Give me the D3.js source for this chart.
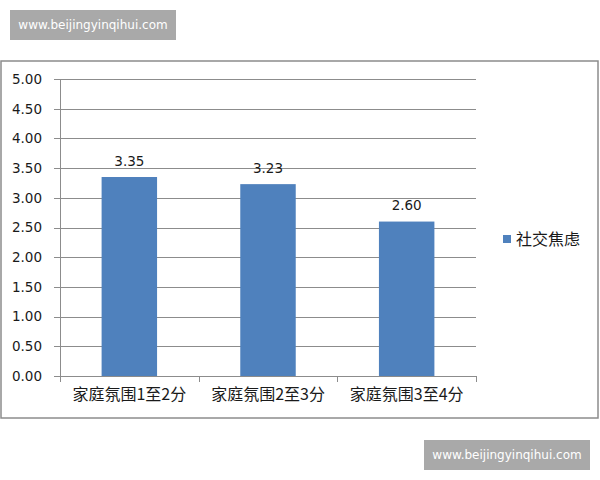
<!DOCTYPE html>
<html>
<head>
<meta charset="utf-8">
<script src="https://cdn.jsdelivr.net/npm/d3@7"></script>
<style>
  body { margin: 0; background: #fff; }
</style>
</head>
<body>
<div id="chart"></div>
<script>
const categories = ["家庭氛围1至2分", "家庭氛围2至3分", "家庭氛围3至4分"];
const values = [3.35, 3.23, 2.6];
const seriesName = "社交焦虑";
const yTicks = [0, 0.5, 1, 1.5, 2, 2.5, 3, 3.5, 4, 4.5, 5];
const watermark = "www.beijingyinqihui.com";

const width = 600, height = 480;
const plot = { left: 60, right: 476, top: 79, bottom: 376 };
const cjk = "'Noto Sans CJK SC', sans-serif";
const num = "'DejaVu Sans', Verdana, sans-serif";

const svg = d3.select("#chart").append("svg")
  .attr("width", width)
  .attr("height", height);

// watermarks
const marks = [{ x: 10, y: 10 }, { x: 424, y: 440 }];
marks.forEach((m) => {
  svg.append("rect")
    .attr("x", m.x).attr("y", m.y)
    .attr("width", 166).attr("height", 30)
    .attr("fill", "#a9a9a9");
  svg.append("text")
    .attr("x", m.x + 83).attr("y", m.y + 15)
    .attr("dy", "0.35em")
    .attr("text-anchor", "middle")
    .attr("font-family", num)
    .attr("font-size", 12)
    .attr("fill", "#fff")
    .text(watermark);
});

// chart frame
svg.append("rect")
  .attr("x", 1).attr("y", 61)
  .attr("width", 597).attr("height", 357)
  .attr("fill", "#fff")
  .attr("stroke", "#8c8c8c")
  .attr("stroke-width", 1.5);

const x = d3.scaleBand()
  .domain(categories)
  .range([plot.left, plot.right])
  .paddingInner(0)
  .paddingOuter(0);

const y = d3.scaleLinear()
  .domain([0, 5])
  .range([plot.bottom, plot.top]);

// gridlines
svg.append("g")
  .selectAll("line")
  .data(yTicks)
  .join("line")
  .attr("x1", plot.left - 6)
  .attr("x2", plot.right)
  .attr("y1", (d) => Math.round(y(d)) + 0.5)
  .attr("y2", (d) => Math.round(y(d)) + 0.5)
  .attr("stroke", "#8c8c8c")
  .attr("stroke-width", 1);

// y axis
const yAxis = svg.append("g")
  .attr("transform", `translate(${plot.left - 6},0)`)
  .call(d3.axisLeft(y).tickValues(yTicks).tickFormat(d3.format(".2f")).tickSize(0).tickPadding(12))
  .call((g) => g.select(".domain").remove());
yAxis.selectAll("text")
  .attr("font-family", num)
  .attr("font-size", 13.5)
  .attr("fill", "#1a1a1a");

svg.append("line")
  .attr("x1", plot.left + 0.5).attr("x2", plot.left + 0.5)
  .attr("y1", plot.top).attr("y2", plot.bottom)
  .attr("stroke", "#8c8c8c");

// bars
svg.append("g")
  .selectAll("rect")
  .data(values)
  .join("rect")
  .attr("x", (d, i) => x(categories[i]) + x.bandwidth() * 0.3)
  .attr("width", x.bandwidth() * 0.4)
  .attr("y", (d) => y(d))
  .attr("height", (d) => y(0) - y(d))
  .attr("fill", "#4f81bd");

// value labels
svg.append("g")
  .selectAll("text")
  .data(values)
  .join("text")
  .attr("x", (d, i) => x(categories[i]) + x.bandwidth() / 2)
  .attr("y", (d) => y(d) - 16)
  .attr("dy", "0.35em")
  .attr("text-anchor", "middle")
  .attr("font-family", num)
  .attr("font-size", 13.5)
  .attr("fill", "#1a1a1a")
  .text((d) => d3.format(".2f")(d));

// x axis
const xAxis = svg.append("g")
  .attr("transform", `translate(0,${plot.bottom + 0.5})`)
  .call(d3.axisBottom(x).tickSize(0).tickPadding(12))
  .call((g) => g.select(".domain").attr("stroke", "#8c8c8c").attr("d", `M${plot.left},0H${plot.right}`));
xAxis.selectAll("text")
  .attr("font-family", cjk)
  .attr("font-size", 16)
  .attr("fill", "#1a1a1a");

svg.append("g")
  .selectAll("line")
  .data(categories.concat([null]))
  .join("line")
  .attr("x1", (d) => Math.round(d ? x(d) : plot.right) + 0.5)
  .attr("x2", (d) => Math.round(d ? x(d) : plot.right) + 0.5)
  .attr("y1", plot.bottom)
  .attr("y2", plot.bottom + 6)
  .attr("stroke", "#8c8c8c");

// legend
svg.append("rect")
  .attr("x", 503).attr("y", 235)
  .attr("width", 8).attr("height", 8)
  .attr("fill", "#4f81bd");
svg.append("text")
  .attr("x", 516).attr("y", 239)
  .attr("dy", "0.35em")
  .attr("font-family", cjk)
  .attr("font-size", 16)
  .attr("fill", "#1a1a1a")
  .text(seriesName);
</script>
</body>
</html>
